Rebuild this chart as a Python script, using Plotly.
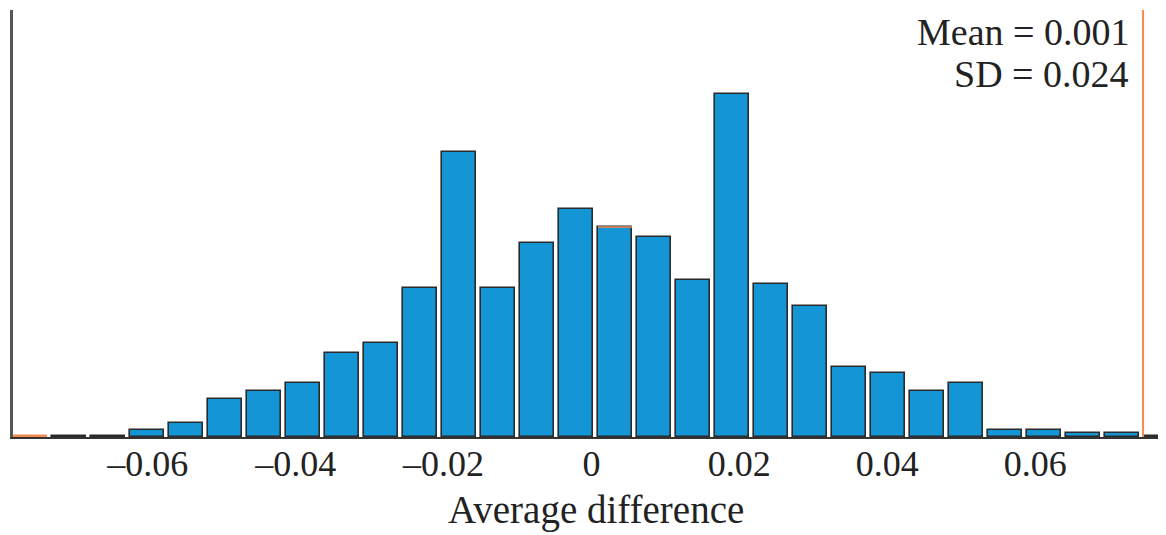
import plotly.graph_objects as go

# Bin centers (Average difference) and bar heights (relative counts)
bin_centers = [-0.07588, -0.07061, -0.06534, -0.06007, -0.05480, -0.04953, -0.04426,
               -0.03899, -0.03372, -0.02845, -0.02318, -0.01791, -0.01264, -0.00736,
               -0.00209, 0.00318, 0.00845, 0.01372, 0.01899, 0.02426, 0.02953,
               0.03480, 0.04007, 0.04534, 0.05061, 0.05588, 0.06115, 0.06642,
               0.07169, 0.07696]
counts = [1, 1.5, 1.5, 6.7, 14.4, 38.4, 46, 54, 84, 94, 149, 285, 149, 194.5, 228,
          210, 200, 157, 343, 153, 131, 70, 64, 46, 54, 6.7, 6.7, 4.4, 4.4, 1.5]
bar_width = 0.0046

tick_vals = [-0.06, -0.04, -0.02, 0, 0.02, 0.04, 0.06]
tick_text = ["–0.06", "–0.04", "–0.02", "0", "0.02", "0.04", "0.06"]

observed_value = 0.0746
highlight_bin = 15  # bar whose top edge is drawn orange

mean_text = "Mean = 0.001"
sd_text = "SD = 0.024"
x_title = "Average difference"

BLUE = "#1496D6"
EDGE = "#2a2a2a"
ORANGE = "#F58A4E"
FONT = "Liberation Serif"
TXT = "#222"

edge_colors = [ORANGE if i == 0 else EDGE for i in range(len(counts))]

fig = go.Figure()
fig.add_trace(go.Bar(
    x=bin_centers, y=counts, width=bar_width,
    marker=dict(color=BLUE, line=dict(color=edge_colors, width=1.6)),
    hoverinfo="skip", showlegend=False,
))

# orange top edge on the highlighted bar
hc = bin_centers[highlight_bin]
hh = counts[highlight_bin]
fig.add_trace(go.Scatter(
    x=[hc - bar_width / 2, hc + bar_width / 2], y=[hh, hh],
    mode="lines", line=dict(color=ORANGE, width=1.6),
    hoverinfo="skip", showlegend=False,
))

fig.add_shape(type="line", xref="x", yref="paper",
              x0=observed_value, x1=observed_value, y0=0, y1=1,
              line=dict(color=ORANGE, width=2))

for txt, yy in [(mean_text, 0.948), (sd_text, 0.851)]:
    fig.add_annotation(
        xref="paper", yref="paper", x=0.969, y=yy, xanchor="right", yanchor="middle",
        text=txt, align="right", showarrow=False, borderpad=0,
        font=dict(family=FONT, size=38, color=TXT),
    )

# x-axis title
fig.add_annotation(
    xref="paper", yref="paper", x=0.506, y=-0.172, xanchor="center", yanchor="middle",
    text=x_title, showarrow=False, borderpad=0,
    font=dict(family=FONT, size=39, color=TXT),
)

# the page adds an 8px body margin, so the figure is sized to fit the window
fig.update_layout(
    width=1158, height=527,
    margin=dict(l=5, r=0, t=2, b=98),
    plot_bgcolor="white", paper_bgcolor="white",
    bargap=0,
    font=dict(family=FONT, size=36, color=TXT),
    xaxis=dict(
        range=[-0.07824, 0.0777],
        tickvals=tick_vals, ticktext=tick_text,
        ticks="", ticklabelstandoff=-6,
        showgrid=False, zeroline=False,
        showline=True, linecolor="#333", linewidth=2,
        tickfont=dict(family=FONT, size=36, color=TXT),
        automargin=False,
    ),
    yaxis=dict(
        range=[0, 427], showticklabels=False, ticks="",
        showgrid=False, zeroline=False,
        showline=True, linecolor="#555", linewidth=2.5,
    ),
)

fig.write_html("out.html")
